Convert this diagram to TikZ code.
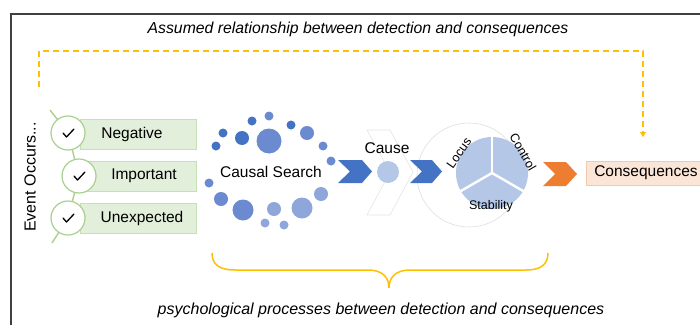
\documentclass[tikz,border=0pt]{standalone}
\usepackage{fontspec}
\setmainfont{Liberation Sans}
\usetikzlibrary{arrows.meta}

\begin{document}
\begin{tikzpicture}[x=1pt,y=1pt,
  lbl/.style={inner sep=0pt, outer sep=0pt, font=\fontsize{15.5}{18}\selectfont},
  small/.style={inner sep=0pt, outer sep=0pt, font=\fontsize{12.5}{15}\selectfont},
  tickcircle/.style={circle, draw=greenLine, line width=1.2pt, fill=white, minimum size=34pt, inner sep=0pt},
  greenbox/.style={draw=greenEdge, line width=0.6pt, fill=greenFill, minimum width=116pt, minimum height=30pt, inner sep=0pt},
  chevron/.style={line join=miter}]
\definecolor{greenLine}{RGB}{169,208,142}
\definecolor{greenEdge}{RGB}{197,224,180}
\definecolor{greenFill}{RGB}{226,239,218}
\definecolor{blueDark}{RGB}{68,114,196}
\definecolor{blueMid}{RGB}{108,138,207}
\definecolor{blueLight}{RGB}{143,166,219}
\definecolor{paleBlue}{RGB}{180,199,231}
\definecolor{orangeFill}{RGB}{237,125,49}
\definecolor{peach}{RGB}{251,229,214}
\definecolor{peachEdge}{RGB}{244,200,170}
\definecolor{gold}{RGB}{255,192,0}
\definecolor{frameGray}{RGB}{64,64,64}
\path[use as bounding box,fill=white] (0,0) rectangle (700,325);

% open frame
\draw[frameGray,line width=1.2pt] (11,0) -- (11,311) -- (700,311);

\node[lbl,font=\itshape\fontsize{15.8}{18}\selectfont] (title) at (358,296) {Assumed relationship between detection and consequences};

% assumed shortcut
\coordinate (dashstart) at (39,238);
\coordinate (dashturn) at (643,274);
\coordinate (dashend) at (643,188);
\draw[gold,line width=1.6pt,dash pattern=on 6pt off 4pt,-{Triangle[width=6pt,length=5pt]}] (dashstart) |- (dashturn) -- (dashend);

% event occurs
\node[lbl,font=\fontsize{16}{18}\selectfont,rotate=90] (evt) at (30,148) {Event Occurs...};

\coordinate (gtop) at (50,215);
\coordinate (k1) at (68,192);
\coordinate (k2) at (79,149);
\coordinate (k3) at (68,107);
\coordinate (gbot) at (52,82);
\draw[greenLine,line width=1.4pt] (gtop) -- (k1) -- (k2) -- (k3) -- (gbot);

\node[greenbox] (negbox) at (138,191) {};
\node[greenbox] (impbox) at (138,149) {};
\node[greenbox] (unexpbox) at (138,107) {};
\node[lbl] (neg) at (132,191) {Negative};
\node[lbl] (imp) at (144,149) {Important};
\node[lbl] (unexp) at (142,107) {Unexpected};

\node[tickcircle] (chk1) at (k1) {};
\node[tickcircle] (chk2) at (k2) {};
\node[tickcircle] (chk3) at (k3) {};
\foreach \k in {chk1,chk2,chk3}
  \draw[line width=1.3pt,line cap=round,line join=round] ([shift={(-5,0)}]\k.center) -- ++(3.5,-4) -- ++(7.5,8);

% causal search
\foreach \x/\y/\r/\c in {269/209/4.5/blueMid, 252/204/4.5/blueDark, 223/192/4.5/blueDark, 216/179/4.5/blueDark,
    242/187/7/blueDark, 269/184/12.5/blueMid, 291/200/4.5/blueDark, 307/192/7/blueMid, 323/179/4.5/blueMid,
    331/164/4.5/blueMid, 209/142/4.5/blueMid, 221/126/7/blueMid, 243/115/10.5/blueMid, 265/102/4.5/blueLight,
    274/116/7/blueLight, 284/100/4.5/blueLight, 302/117/10.5/blueLight, 321/131/7/blueLight}
  \fill[\c] (\x,\y) circle (\r);
\node[lbl] (search) at (271,153) {Causal Search};

% faint shapes behind
\draw[gray!20,line width=0.6pt] (367,195) -- (390,195) -- (413,153) -- (390,110) -- (367,110) -- (390,153) -- cycle;
\node[circle,draw=gray!25,line width=0.6pt,minimum size=104pt,inner sep=0pt] (ring) at (469,150) {};

\fill[blueDark,chevron] (338,165) -- (362,165) -- (372,153.5) -- (362,142) -- (338,142) -- (350,153.5) -- cycle;
\node[circle,fill=paleBlue,minimum size=22pt,inner sep=0pt] (cause) at (388,153) {};
\node[lbl] (causetxt) at (387,177) {Cause};
\fill[blueDark,chevron] (410,165) -- (432,165) -- (442,153.5) -- (432,142) -- (410,142) -- (422,153.5) -- cycle;

% attribution dimensions
\node[circle,fill=paleBlue,minimum size=72pt,inner sep=0pt] (attr) at (492,152) {};
\foreach \a in {90,210,330}
  \draw[white,line width=2.4pt] (attr.center) -- (attr.\a);
\node[small,rotate=55] (locus) at (459,172) {Locus};
\node[small,rotate=-60] (control) at (523,173) {Control};
\node[small] (stab) at (491,119) {Stability};

\fill[orangeFill,chevron] (543,163) -- (566,163) -- (577,151) -- (566,139) -- (543,139) -- (555,151) -- cycle;
\node[draw=peachEdge,fill=peach,line width=0.6pt,minimum width=130pt,minimum height=24pt,anchor=west] (conseqbox) at (586,152) {};
\node[lbl] (conseq) at (646,152) {Consequences};

% brace
\draw[gold,line width=1.5pt] (212,72) .. controls (212,60) and (220,55) .. (235,55) -- (368,55)
  .. controls (382,55) and (389,48) .. (389,37) .. controls (389,48) and (396,55) .. (410,55)
  -- (526,55) .. controls (540,55) and (548,60) .. (548,72);
\node[lbl,font=\itshape\fontsize{16}{18}\selectfont] (bottom) at (381,15) {psychological processes between detection and consequences};
\end{tikzpicture}
\end{document}
